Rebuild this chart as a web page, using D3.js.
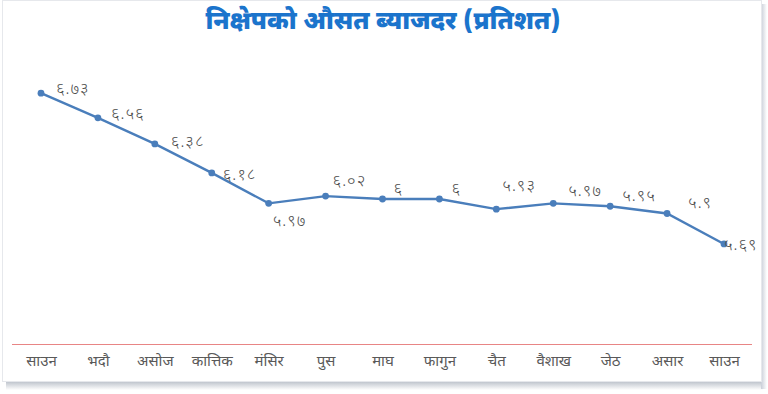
<!DOCTYPE html>
<html>
<head>
<meta charset="utf-8">
<script src="https://cdn.jsdelivr.net/npm/d3@7"></script>
<style>
  html, body { margin: 0; padding: 0; background: #ffffff; }
  svg { display: block; }
</style>
</head>
<body>
<svg id="chart" width="768" height="394"></svg>
<script>
// ---- data ----
const title = "निक्षेपको औसत ब्याजदर (प्रतिशत)";
const months = ["साउन", "भदौ", "असोज", "कात्तिक", "मंसिर", "पुस", "माघ", "फागुन", "चैत", "वैशाख", "जेठ", "असार", "साउन "];
const rates = [6.73, 6.56, 6.38, 6.18, 5.97, 6.02, 6, 6, 5.93, 5.97, 5.95, 5.9, 5.69];
const rateLabels = ["६.७३", "६.५६", "६.३८", "६.१८", "५.९७", "६.०२", "६", "६", "५.९३", "५.९७", "५.९५", "५.९", "५.६९"];

// ---- drawing ----
const W = 768, H = 394;
const svg = d3.select("#chart");
const font = "'Noto Sans Devanagari', 'Noto Sans', 'Lohit Devanagari', sans-serif";

// frame with shadow
const defs = svg.append("defs");
const gradB = defs.append("linearGradient").attr("id", "shB").attr("x1", 0).attr("x2", 0).attr("y1", 0).attr("y2", 1);
gradB.append("stop").attr("offset", "0%").attr("stop-color", "#b9bfc8");
gradB.append("stop").attr("offset", "100%").attr("stop-color", "#ffffff");
const gradR = defs.append("linearGradient").attr("id", "shR").attr("x1", 0).attr("x2", 1).attr("y1", 0).attr("y2", 0);
gradR.append("stop").attr("offset", "0%").attr("stop-color", "#c9ced8");
gradR.append("stop").attr("offset", "100%").attr("stop-color", "#ffffff");

svg.append("rect").attr("x", 6).attr("y", 381).attr("width", 757).attr("height", 9).attr("fill", "url(#shB)");
svg.append("rect").attr("x", 761).attr("y", 4).attr("width", 6).attr("height", 385).attr("fill", "url(#shR)");
svg.append("rect").attr("x", 2.5).attr("y", 0.5).attr("width", 759).attr("height", 381)
  .attr("fill", "#ffffff").attr("stroke", "#e6e8ec").attr("stroke-width", 1);

// title
svg.append("text")
  .attr("x", 383).attr("y", 29)
  .attr("text-anchor", "middle")
  .attr("font-family", font)
  .attr("font-weight", 900)
  .attr("font-size", 25)
  .attr("fill", "#1b74cc")
  .text(title);

// scales
const x = d3.scalePoint().domain(d3.range(months.length)).range([41, 724]);
const y = d3.scaleLinear().domain([5, 7]).range([344, 54]);

// x axis
const xAxis = d3.axisBottom(d3.scalePoint().domain(months).range([41, 724]))
  .tickSize(0).tickPadding(11);
const gx = svg.append("g").attr("transform", "translate(0,344)").call(xAxis);
gx.select(".domain").remove();
gx.selectAll("text")
  .attr("font-family", font)
  .attr("font-size", 15)
  .attr("fill", "#595959");
svg.append("line")
  .attr("x1", 12).attr("x2", 752).attr("y1", 344.5).attr("y2", 344.5)
  .attr("stroke", "#e88585").attr("stroke-width", 1.2);

// line
const line = d3.line().x((d, i) => x(i)).y(d => y(d));
svg.append("path")
  .datum(rates)
  .attr("d", line)
  .attr("fill", "none")
  .attr("stroke", "#4a7ebb")
  .attr("stroke-width", 2.4);

svg.selectAll("circle.pt")
  .data(rates)
  .enter().append("circle")
  .attr("class", "pt")
  .attr("cx", (d, i) => x(i))
  .attr("cy", d => y(d))
  .attr("r", 3.4)
  .attr("fill", "#4a7ebb");

// data labels (offset from each point: dx to label start, dy to label middle)
const labelOffsets = [[15, -5], [13, -5], [16, -3], [11, 1], [4, 17], [7, -16], [11, -11], [12, -11], [6, -24], [15, -13], [12, -11], [21, -11], [0, 0]];
svg.selectAll("text.lbl")
  .data(rates)
  .enter().append("text")
  .attr("class", "lbl")
  .attr("x", (d, i) => x(i) + labelOffsets[i][0])
  .attr("y", (d, i) => y(d) + labelOffsets[i][1])
  .attr("dy", "0.35em")
  .attr("font-family", font)
  .attr("font-size", 16.5)
  .attr("font-weight", 300)
  .attr("letter-spacing", 1)
  .attr("fill", "#505050")
  .text((d, i) => rateLabels[i]);
</script>
</body>
</html>
